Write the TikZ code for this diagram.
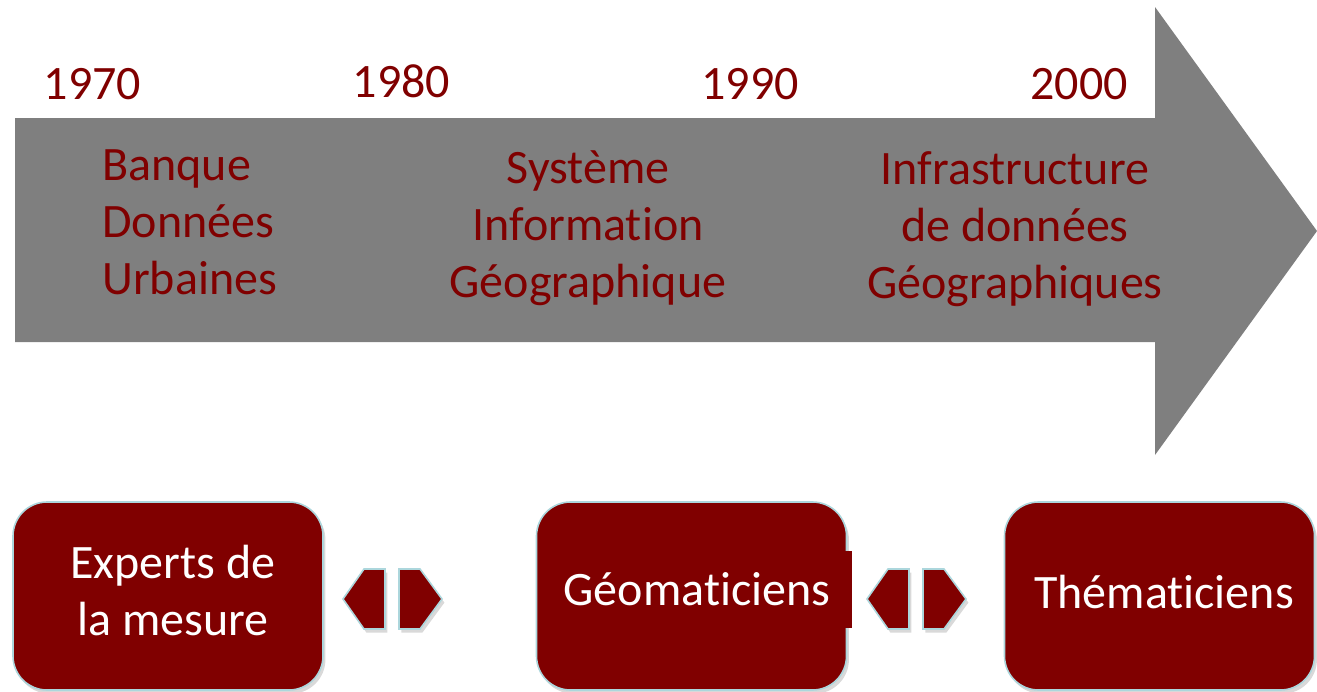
\documentclass[tikz,border=0pt]{standalone}
\usepackage{fontspec}
\setmainfont[Ligatures=NoCommon]{Carlito}
\usetikzlibrary{shadows}
\definecolor{wine}{RGB}{128,0,0}
\definecolor{steel}{RGB}{127,127,127}
\definecolor{rim}{RGB}{172,214,220}
\tikzset{
  year/.style = {anchor=base, text=wine, inner sep=0, font=\fontsize{24}{29}\selectfont},
  phase/.style = {anchor=base, text=wine, inner sep=0, font=\fontsize{24}{28.5}\selectfont},
  actor/.style = {rounded corners=17pt, fill=wine, draw=rim, line width=0.8pt, inner sep=0,
     minimum width=155pt, minimum height=94pt,
     drop shadow={opacity=0.3, shadow xshift=1.2pt, shadow yshift=-1.8pt}},
  actortext/.style = {anchor=base, text=white, inner sep=0, align=center, font=\fontsize{24}{28.5}\selectfont},
  tab/.style = {fill=wine, draw=rim, line width=0.8pt,
     drop shadow={opacity=0.3, shadow xshift=1.2pt, shadow yshift=-1.8pt}}
}
\newcommand{\linkpair}[1]{
   \begin{scope}[shift={(#1,0)}]
      \path[tab] (0,599) -- (21,569) -- (42,569) -- (42,629) -- (21,629) -- cycle;
      \path[tab] (56,569) -- (77,569) -- (99,599) -- (77,629) -- (56,629) -- cycle;
   \end{scope}
}

\begin{document}
\begin{tikzpicture}[x=0.5pt, y=-0.5pt]
		\useasboundingbox (0,0) rectangle (1317,691);

		% Time arrow
		\path[fill=steel] (15,118) -- (1155,118) -- (1155,7) -- (1317,231) -- (1155,455) -- (1155,342) -- (15,342) -- cycle;

		% Years
		\node[year] (y1970) at (92.5,99) {1970};
		\node[year] (y1980) at (401.5,97) {1980};
		\node[year] (y1990) at (750,99) {1990};
		\node[year] (y2000) at (1079,99) {2000};

		% Phases (base = last line)
		\node[phase, align=left, anchor=base west] (bdu) at (102,294) {Banque\\Données\\Urbaines};
		\node[phase, align=center] (sig) at (588,297) {Système\\Information\\Géographique};
		\node[phase, align=center] (idg) at (1015,298) {Infrastructure\\de données\\Géographiques};

		% Actors
		\node[actor] (experts) at (168,596) {};
		\node[actor] (geomat) at (691.5,596) {};
		\fill[wine] (845,551) rectangle (852,628);
		\node[actor] (themat) at (1159.5,596) {};
		\node[actortext] (expertslbl) at (173,635) {Experts de\\la mesure};
		\node[actortext] (geomatlbl) at (697,605) {Géomaticiens};
		\node[actortext] (thematlbl) at (1164,608) {Thématiciens};

		% Links
		\linkpair{343}
		\linkpair{867}
	\end{tikzpicture}
\end{document}
